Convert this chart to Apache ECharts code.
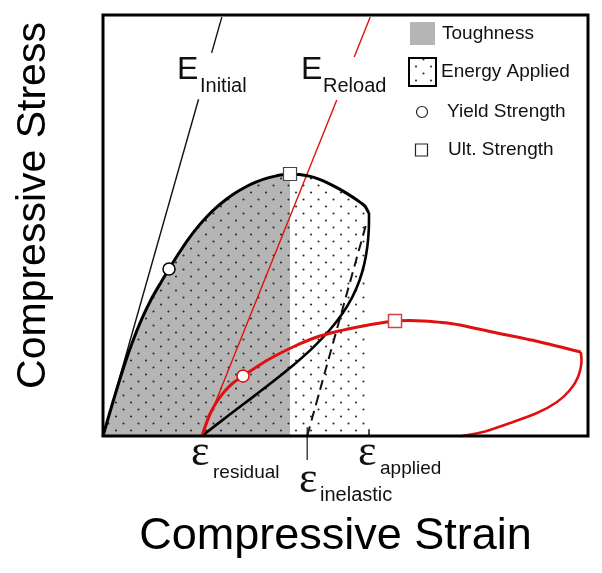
<!DOCTYPE html>
<html>
<head>
<meta charset="utf-8">
<script src="https://cdn.jsdelivr.net/npm/echarts@6/dist/echarts.min.js"></script>
<style>
  html, body { margin: 0; padding: 0; background: #fff; }
  #chart { width: 602px; height: 573px; }
</style>
</head>
<body>
<div id="chart"></div>
<script>
// schematic units: strain 0-100 (x), stress 0-100 (y)
const loadCurve = [[0, 0], [2, 7.9], [4, 15.4], [6, 22.1], [8, 27.8], [10, 32.6], [12, 36.6],
  [13.61, 39.67], [15.5, 43.17], [17.5, 46.61], [19.5, 49.61], [21.5, 52.21], [23.5, 54.41],
  [25.5, 56.29], [27.5, 57.89], [29.5, 59.21], [31.5, 60.29], [33.5, 61.13], [35.5, 61.73],
  [37, 62.03], [38.56, 62.2], [40.5, 62.13], [42.5, 61.73], [44.5, 61.01], [46.5, 60.01],
  [48.5, 58.81], [50.5, 57.45], [52.5, 55.95], [54, 54.6], [54.6, 53.4], [54.85, 52.97]];
const toughnessCurve = loadCurve.slice(0, 21);   // up to the ultimate strength
const unloadCurve = [[54.85, 52.97], [54.8, 49], [54.5, 45], [53.9, 41], [52.9, 37], [51.4, 33],
  [49.3, 29], [46.6, 25], [43.3, 21], [39.4, 17], [35.1, 13], [30.6, 9], [26, 5], [20.41, 0]];
const reloadCurve = [[20.41, 0], [21.24, 2.85], [22.06, 5.23], [23.3, 7.84], [24.95, 10.45], [26.8, 12.59],
  [28.87, 14.25], [31.96, 16.63], [35.05, 18.76], [39.59, 21.38], [44.12, 23.52], [47.84, 24.7],
  [51.55, 25.65], [55.88, 26.6], [60.21, 27.32], [63.3, 27.43], [65.98, 27.32], [69.9, 26.96],
  [73.61, 26.37], [81.24, 24.47], [90.1, 22.33], [98.5, 19.95]];
const reloadReturn = [[98.5, 19.95], [98.66, 18.05], [97.94, 14.01], [96.29, 10.93], [93.61, 8.08],
  [89.48, 5.46], [83.92, 3.09], [78.35, 0.95], [74, 0]];
const eInitialLow = [[0, 0], [19.7, 80]];
const eInitialHigh = [[22.4, 91], [24.5, 99.5]];
const eReloadLow = [[20.4, 0], [48.2, 79.8]];
const eReloadHigh = [[51.8, 90], [55.1, 99.5]];
const inelasticLine = [[42.1, 0], [54.3, 50.5]];
const inelasticTick = [[42.1, -5.7], [42.1, 2.1]];
const appliedTick = [[54.85, 0], [54.85, 1.6]];
const yieldPts = [[13.61, 39.67], [28.87, 14.25]];
const ultPts = [[38.56, 62.23], [60.21, 27.32]];

const RED = '#e01010';
const SANS = '"Liberation Sans", Arial, sans-serif';
const SERIF = '"Liberation Serif", "Times New Roman", serif';
const SMOOTH = 0.25;

function dotCanvas() {
  const c = document.createElement('canvas');
  c.width = 15; c.height = 14;
  const ctx = c.getContext('2d');
  ctx.fillStyle = '#2a2a2a';
  [[3.5, 3.5], [11, 10.5]].forEach(function (p) {
    ctx.beginPath(); ctx.arc(p[0], p[1], 1.05, 0, Math.PI * 2); ctx.fill();
  });
  return c;
}
const dots = { image: dotCanvas(), repeat: 'repeat' };

function txt(x, y, s, size, family) {
  return {
    type: 'text', x: x, y: y, z: 100,
    style: { text: s, fontSize: size, fontFamily: family || SANS, fill: '#111', align: 'left', verticalAlign: 'middle' }
  };
}

function seg(data, color, width, type, smooth) {
  return {
    type: 'line', data: data, symbol: 'none', silent: true, clip: false, smooth: smooth || false,
    lineStyle: { color: color, width: width, type: type || 'solid' }
  };
}

const chart = echarts.init(document.getElementById('chart'));
chart.setOption({
  animation: false,
  backgroundColor: '#fff',
  grid: { left: 103, right: 14, top: 15, bottom: 137, show: true, z: 10,
    backgroundColor: 'transparent', borderColor: '#000', borderWidth: 3 },
  xAxis: {
    type: 'value', min: 0, max: 100,
    axisLine: { show: false }, axisTick: { show: false }, axisLabel: { show: false }, splitLine: { show: false },
    name: 'Compressive Strain', nameLocation: 'middle', nameGap: 78,
    nameTextStyle: { fontSize: 45, fontFamily: SANS, color: '#000', padding: [0, 20, 0, 0] }
  },
  yAxis: {
    type: 'value', min: 0, max: 100,
    axisLine: { show: false }, axisTick: { show: false }, axisLabel: { show: false }, splitLine: { show: false },
    name: 'Compressive Stress', nameLocation: 'middle', nameGap: 49,
    nameTextStyle: { fontSize: 41, fontFamily: SANS, color: '#000', padding: [0, 0, 0, 40] }
  },
  series: [
    { type: 'line', name: 'Toughness', data: toughnessCurve, smooth: SMOOTH, symbol: 'none', silent: true,
      lineStyle: { width: 0 }, areaStyle: { color: '#b5b5b5', opacity: 1 } },
    { type: 'line', name: 'Energy Applied', data: loadCurve, smooth: SMOOTH, symbol: 'none', silent: true,
      lineStyle: { width: 0 }, areaStyle: { color: dots, opacity: 1 } },
    seg(eInitialLow, '#111', 1.4), seg(eInitialHigh, '#111', 1.4),
    seg(eReloadLow, RED, 1.4), seg(eReloadHigh, RED, 1.4),
    seg(inelasticLine, '#111', 2, [10, 6]),
    seg(inelasticTick, '#111', 1.2), seg(appliedTick, '#111', 1.5),
    seg(loadCurve, '#000', 3, 'solid', SMOOTH),
    seg(unloadCurve, '#000', 2.6, 'solid', SMOOTH),
    seg(reloadCurve, RED, 3, 'solid', SMOOTH),
    seg(reloadReturn, RED, 2.6, 'solid', SMOOTH),
    { type: 'scatter', name: 'Yield Strength', symbol: 'circle', symbolSize: 12, z: 5,
      data: [
        { value: yieldPts[0], itemStyle: { color: '#fff', opacity: 1, borderColor: '#000', borderWidth: 1.5 } },
        { value: yieldPts[1], itemStyle: { color: '#fff', opacity: 1, borderColor: RED, borderWidth: 1.5 } }
      ] },
    { type: 'scatter', name: 'Ult. Strength', symbol: 'rect', symbolSize: 13, z: 5,
      data: [
        { value: ultPts[0], itemStyle: { color: '#fff', opacity: 1, borderColor: '#444', borderWidth: 1.2 } },
        { value: ultPts[1], itemStyle: { color: '#fff', opacity: 1, borderColor: '#c44', borderWidth: 1.5 } }
      ] }
  ],
  graphic: [
    // legend
    { type: 'rect', z: 100, shape: { x: 410, y: 22, width: 25, height: 23 }, style: { fill: '#b5b5b5' } },
    { type: 'rect', z: 100, shape: { x: 409, y: 58, width: 27, height: 28 },
      style: { fill: dots, stroke: '#000', lineWidth: 2 } },
    { type: 'circle', z: 100, shape: { cx: 422, cy: 112, r: 5.5 }, style: { fill: '#fff', stroke: '#222', lineWidth: 1.2 } },
    { type: 'rect', z: 100, shape: { x: 415.5, y: 144, width: 12, height: 12 }, style: { fill: '#fff', stroke: '#222', lineWidth: 1.2 } },
    txt(442, 34, 'Toughness', 19),
    txt(441, 72, 'Energy Applied', 19),
    txt(447, 112, 'Yield Strength', 19),
    txt(448, 150, 'Ult. Strength', 19),
    // modulus labels
    txt(177, 70, 'E', 32), txt(200, 86, 'Initial', 20),
    txt(301, 70, 'E', 32), txt(323, 86, 'Reload', 20),
    // strain labels
    txt(191, 453, 'ε', 44, SERIF), txt(213, 473, 'residual', 19),
    txt(299, 480, 'ε', 44, SERIF), txt(320, 495, 'inelastic', 20),
    txt(358, 453, 'ε', 44, SERIF), txt(380, 469, 'applied', 19)
  ]
});
</script>
</body>
</html>
